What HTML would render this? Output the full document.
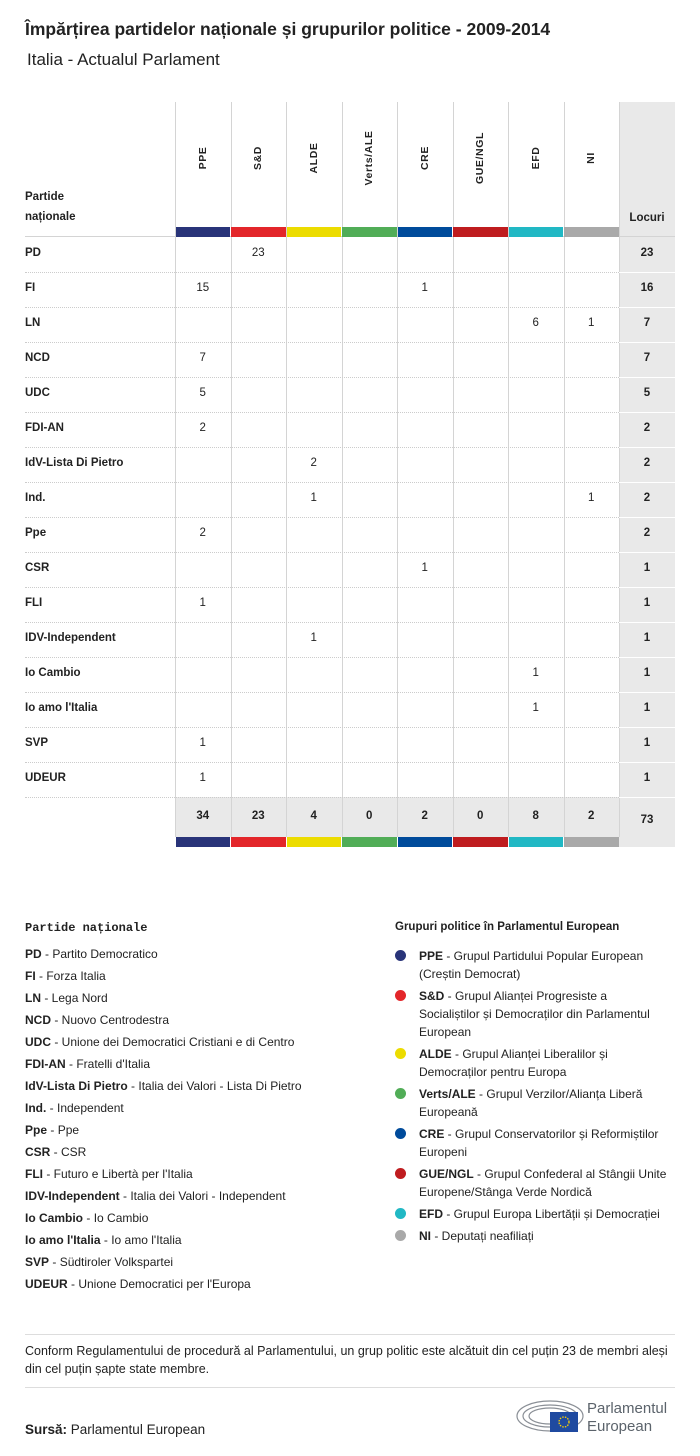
<!DOCTYPE html>
<html><head><meta charset="utf-8">
<style>
body{margin:0;width:700px;height:1456px;background:#fff;font-family:"Liberation Sans",sans-serif;color:#222;position:relative;overflow:hidden}
.a{position:absolute}
.t{font-size:12px}
.b{font-weight:bold}
</style></head><body>
<div class="a b" style="left:25px;top:19px;font-size:17.5px">Împărțirea partidelor naționale și grupurilor politice - 2009-2014</div>
<div class="a" style="left:27px;top:50px;font-size:17px">Italia - Actualul Parlament</div>
<div id="tbl"></div>
<div class="a b" style="left:25px;top:921px;font-size:12px;font-family:'Liberation Mono',monospace">Partide naționale</div>
<div id="legL"></div>
<div class="a b" style="left:395px;top:921px;font-size:11.5px">Grupuri politice în Parlamentul European</div>
<div id="legR"></div>
<div class="a" style="left:25px;top:1334px;width:650px;border-top:1px solid #ddd"></div>
<div class="a" style="left:25px;top:1342px;line-height:18px;font-size:12.5px">Conform Regulamentului de procedură al Parlamentului, un grup politic este alcătuit din cel puțin 23 de membri aleși<br>din cel puțin șapte state membre.</div>
<div class="a" style="left:25px;top:1387px;width:650px;border-top:1px solid #ddd"></div>
<div class="a" style="left:25px;top:1422px;font-size:13.5px"><b>Sursă:</b> Parlamentul European</div>
<svg class="a" style="left:515px;top:1396px" width="165" height="40">
<g fill="none" stroke="#8a8f96" stroke-width="1.2">
<ellipse cx="35" cy="20" rx="33" ry="15"/><ellipse cx="35" cy="20" rx="27" ry="11"/><ellipse cx="35" cy="20" rx="21" ry="8"/></g>
<rect x="35" y="16" width="28" height="20" fill="#1f4aa0"/>
<circle cx="49" cy="26" r="5" fill="none" stroke="#ffd200" stroke-width="1.3" stroke-dasharray="1.5 1.2"/>
<text x="72" y="17" font-size="15" fill="#5b636b" font-family="Liberation Sans">Parlamentul</text>
<text x="72" y="35" font-size="15" fill="#5b636b" font-family="Liberation Sans">European</text>
</svg>
<script>
const groups=["PPE","S&D","ALDE","Verts/ALE","CRE","GUE/NGL","EFD","NI"];
const colors=["#293479","#e3262a","#ecdc00","#51ad57","#004b9b","#bf1c1f","#21b8c4","#a9a9a9"];
const parties=["PD","FI","LN","NCD","UDC","FDI-AN","IdV-Lista Di Pietro","Ind.","Ppe","CSR","FLI","IDV-Independent","Io Cambio","Io amo l'Italia","SVP","UDEUR"];
const seats=[
[0,23,0,0,0,0,0,0],[15,0,0,0,1,0,0,0],[0,0,0,0,0,0,6,1],[7,0,0,0,0,0,0,0],
[5,0,0,0,0,0,0,0],[2,0,0,0,0,0,0,0],[0,0,2,0,0,0,0,0],[0,0,1,0,0,0,0,1],
[2,0,0,0,0,0,0,0],[0,0,0,0,1,0,0,0],[1,0,0,0,0,0,0,0],[0,0,1,0,0,0,0,0],
[0,0,0,0,0,0,1,0],[0,0,0,0,0,0,1,0],[1,0,0,0,0,0,0,0],[1,0,0,0,0,0,0,0]];
const partyNames=["Partito Democratico","Forza Italia","Lega Nord","Nuovo Centrodestra","Unione dei Democratici Cristiani e di Centro","Fratelli d'Italia","Italia dei Valori - Lista Di Pietro","Independent","Ppe","CSR","Futuro e Libertà per l'Italia","Italia dei Valori - Independent","Io Cambio","Io amo l'Italia","Südtiroler Volkspartei","Unione Democratici per l'Europa"];
const groupNames=[["Grupul Partidului Popular European","(Creștin Democrat)"],["Grupul Alianței Progresiste a","Socialiștilor și Democraților din Parlamentul","European"],["Grupul Alianței Liberalilor și","Democraților pentru Europa"],["Grupul Verzilor/Alianța Liberă","Europeană"],["Grupul Conservatorilor și Reformiștilor","Europeni"],["Grupul Confederal al Stângii Unite","Europene/Stânga Verde Nordică"],["Grupul Europa Libertății și Democrației"],["Deputați neafiliați"]];

const X0=175,CW=55.5,TOP=102,BAR=227,R0=237,RH=35,LX=619,LW=56;
const tbl=document.getElementById('tbl');
function el(css,txt){const d=document.createElement('div');d.className='a';d.style.cssText=css;if(txt!==undefined)d.textContent=txt;tbl.appendChild(d);return d;}
const yEnd=R0+parties.length*RH;
let lc=el(`left:${LX}px;top:${TOP}px;width:${LW}px;height:${yEnd+50-TOP}px;background:#e9e9e9`);


let tb=el(`left:${X0}px;top:${yEnd}px;width:${CW*8}px;height:40px;background:#e9e9e9`);


for(let i=0;i<=8;i++){let v=el(`left:${X0+i*CW}px;top:${TOP}px;width:1px;height:${yEnd+40-TOP}px;background:#d4d4d4`);

}
el(`left:25px;top:187px;font-size:11.5px;font-weight:bold;line-height:20px`,"").innerHTML="Partide<br>naționale";
let lh=el(`left:${LX}px;top:212px;width:${LW}px;text-align:center;font-size:11.5px;font-weight:bold`,"Locuri");


el(`left:25px;top:${R0-1}px;width:650px;height:1px;background:#d4d4d4`);
const tot=groups.map((g,j)=>seats.reduce((s,r)=>s+r[j],0));
groups.forEach((g,j)=>{
  const x=X0+j*CW;
  let h=el(`left:${x+CW/2-50}px;top:151px;width:100px;height:14px;line-height:14px;text-align:center;font-size:10.5px;font-weight:bold;letter-spacing:0.6px;transform:rotate(-90deg);transform-origin:50px 7px;white-space:nowrap`,g);
  
  
  let c=el(`left:${x+0.5}px;top:${BAR}px;width:${CW-1}px;height:10px;background:${colors[j]}`);
  
  
  let c2=el(`left:${x+0.5}px;top:${yEnd+40}px;width:${CW-1}px;height:10px;background:${colors[j]}`);
  
  
  let t=el(`left:${x}px;top:${yEnd+13}px;width:${CW}px;text-align:center;font-size:11.5px;font-weight:bold`,tot[j]);
  
  
});
let gt=el(`left:${LX}px;top:${yEnd+17}px;width:${LW}px;text-align:center;font-size:11.5px;font-weight:bold`,tot.reduce((a,b)=>a+b,0));


parties.forEach((p,i)=>{
  const y=R0+i*RH;
  let n=el(`left:25px;top:${y+10}px;font-size:11.5px;font-weight:bold`,p);
  
  
  seats[i].forEach((v,j)=>{ if(v){let c=el(`left:${X0+j*CW}px;top:${y+10}px;width:${CW}px;text-align:center;font-size:11.5px`,v);
    
    }});
  let s=el(`left:${LX}px;top:${y+10}px;width:${LW}px;text-align:center;font-size:11.5px;font-weight:bold`,seats[i].reduce((a,b)=>a+b,0));
  
  
  el(`left:25px;top:${y+RH}px;width:${LX-25}px;border-top:1px dotted #ccc`);
  el(`left:${LX}px;top:${y+RH}px;width:${LW}px;height:1px;background:#fff`);
});
const legL=document.getElementById('legL');
parties.forEach((p,i)=>{const d=document.createElement('div');d.className='a t';d.style.cssText=`left:25px;top:${947+i*22}px`;
d.innerHTML='<b></b> - <span></span>';d.children[0].textContent=p;d.children[1].textContent=partyNames[i];


legL.appendChild(d);});
const legR=document.getElementById('legR');let y=947;
groups.forEach((g,i)=>{const d=document.createElement('div');d.className='a t';d.style.cssText=`left:419px;top:${y}px;line-height:18px;width:270px`;
d.innerHTML='<b></b> - '+groupNames[i].join('<br>');d.children[0].textContent=g;


legR.appendChild(d);
const c=document.createElement('div');c.className='a';c.style.cssText=`left:395px;top:${y+3}px;width:11px;height:11px;border-radius:50%;background:${colors[i]}`;


legR.appendChild(c);
y+=groupNames[i].length*18+4;});
</script>
</body></html>
